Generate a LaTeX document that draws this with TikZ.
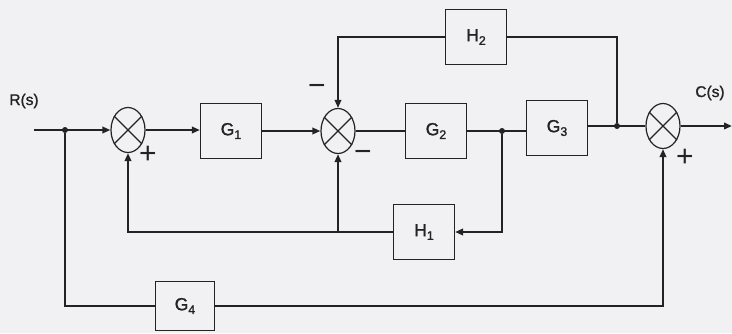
\documentclass[tikz,border=0pt]{standalone}
\usepackage{fontspec}
\setmainfont{Liberation Sans}
\newfontfamily\labfont{Liberation Sans}[FakeBold=1.2]
\usetikzlibrary{shapes.geometric,arrows.meta}
\definecolor{bg}{RGB}{241,240,242}
\definecolor{ink}{RGB}{35,35,35}
\newcommand{\lsub}[1]{\raisebox{-0.4ex}{\fontsize{12.5}{12.5}\selectfont #1}}
\begin{document}
\begin{tikzpicture}[x=1pt,y=-1pt,
 blk/.style={draw=ink,line width=1.2pt,minimum width=61pt,minimum height=55pt,inner sep=0pt,font=\labfont\fontsize{17.5}{19}\selectfont,text=ink},
 sumj/.style={ellipse,draw=ink,line width=1.2pt,minimum width=34pt,minimum height=45pt,inner sep=0pt},
 wire/.style={draw=ink,line width=2.2pt},
 arr/.style={wire,-{Triangle[length=8pt,width=6.5pt]}},
 dot/.style={circle,fill=ink,inner sep=0pt,minimum size=6pt},
 sgn/.style={font=\fontsize{30}{30}\selectfont,text=ink,inner sep=0pt},
 lbl/.style={font=\labfont\fontsize{15.5}{17}\selectfont,text=ink,inner sep=0pt}]
\fill[bg] (0,0) rectangle (732,333);
\useasboundingbox (0,0) rectangle (732,333);

% labels
\node[lbl] (rs) at (24,101) {R(s)};
\node[lbl] (cs) at (710,93) {C(s)};

% summing junctions
\node[sumj] (s1) at (128,130) {};
\node[sumj] (s2) at (338,131) {};
\node[sumj] (s3) at (663,126) {};
\foreach \s in {s1,s2,s3}{
  \draw[ink,line width=1.1pt] (\s.45)--(\s.225) (\s.135)--(\s.315);
}

% blocks
\node[blk] (G1) at (231,131) {G\lsub{1}};
\node[blk] (G2) at (436,131) {G\lsub{2}};
\node[blk] (G3) at (557,128) {G\lsub{3}};
\node[blk] (H2) at (476,37) {H\lsub{2}};
\node[blk] (H1) at (424,232) {H\lsub{1}};
\node[blk,minimum width=59pt,minimum height=49pt] (G4) at (185,306) {G\lsub{4}};

% junctions
\coordinate (in) at (34,130);
\node[dot] (j1) at (65,130) {};
\node[dot] (j2) at (502,131) {};
\node[dot] (j3) at (617,126) {};
\coordinate (out) at (732,126);

% forward path
\draw[arr] (in) -- (s1.west);
\draw[arr] (s1.east) -- (G1.west |- s1.east);
\draw[arr] (G1.east) -- (s2.west);
\draw[wire] (s2.east) -- (G2.west);
\draw[wire] (G2.east) -- (G3.west |- G2.east);
\draw[wire] (G3.east |- s3.west) -- (s3.west);
\draw[arr] (s3.east) -- (out);

% H2 loop
\draw[wire] (j3) |- (H2.east);
\draw[arr] (H2.west) -| (s2.north);

% H1 loop
\draw[arr] (j2) |- (H1.east);
\draw[arr] (H1.west) -| (s1.south);
\coordinate (b2) at (s2 |- H1.west);
\draw[arr] (b2) -- (s2.south);

% G4 path
\draw[wire] (j1) |- (G4.west);
\draw[arr] (G4.east) -| (s3.south);

% signs
\node[sgn] (p1) at (148,155) {+};
\node[sgn] (m1) at (317,90) {−};
\node[sgn] (m2) at (363,156) {−};
\node[sgn] (p3) at (685,158) {+};
\end{tikzpicture}
\end{document}
